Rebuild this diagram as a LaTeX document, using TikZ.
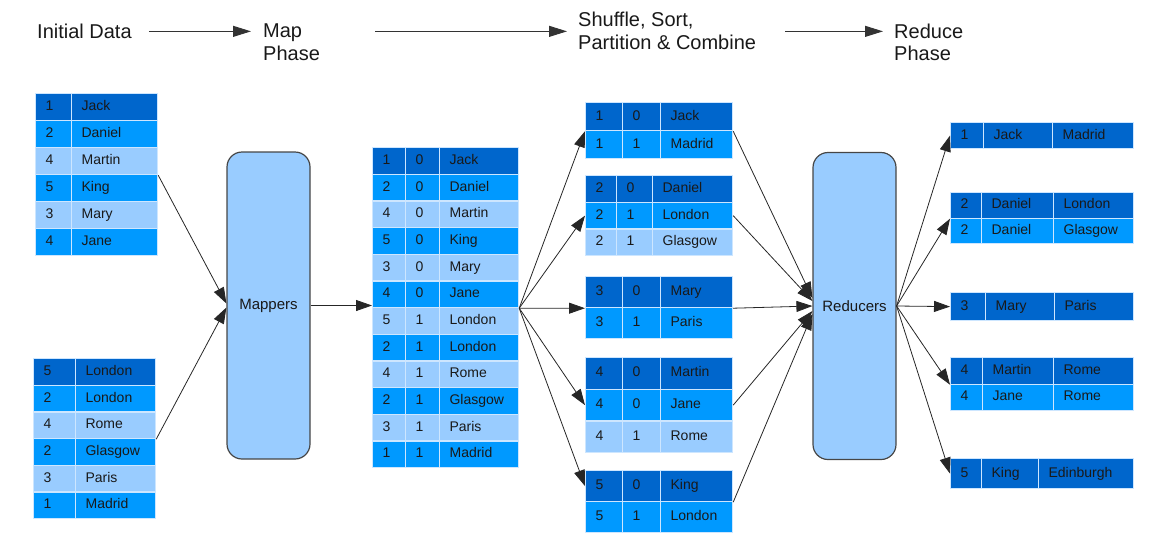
\documentclass[tikz,border=0pt]{standalone}
\usepackage{fontspec}
\setmainfont{Liberation Sans}
\usepackage{tikz}
\usetikzlibrary{arrows.meta,calc}

\definecolor{dkblue}{RGB}{0,102,204}
\definecolor{mdblue}{RGB}{0,153,255}
\definecolor{ltblue}{RGB}{153,204,255}
\definecolor{cellline}{RGB}{205,230,255}
\definecolor{boxline}{RGB}{70,70,70}
\definecolor{txt}{RGB}{25,25,25}

\begin{document}
\begin{tikzpicture}[x=1pt,y=-1pt,
  cell/.style={draw=cellline,line width=1.2pt,anchor=north west,inner xsep=10pt,inner ysep=0pt,
    align=left,text=txt,text height=10pt,text depth=3pt,font=\fontsize{14}{16}\selectfont},
  proc/.style={draw=boxline,fill=ltblue,line width=1.2pt,rounded corners=15pt,minimum width=83pt,
    minimum height=307pt,text=txt,font=\fontsize{15}{17}\selectfont},
  head/.style={inner sep=0pt,align=left,text=txt,font=\fontsize{20}{22.5}\selectfont},
  arr/.style={-{Triangle[length=16pt,width=11pt]},line width=0.8pt,black!85},
  harr/.style={-{Triangle[length=18pt,width=11pt]},line width=1pt,black!80}]
\useasboundingbox (0,0) rectangle (1174,555);

\node[head,anchor=base west] (init) at (37,38.5) {Initial Data};
\node[head,anchor=north west] (mapph) at (263,24) {Map\\Phase};
\node[head,anchor=north west] (shuf) at (578,12.3) {Shuffle, Sort,\\Partition \& Combine};
\node[head,anchor=north west] (redph) at (894,23.5) {Reduce\\Phase};
\draw[harr] ($(init.east)+(17,0)$) -- ($(init.east -| mapph.west)+(-12,0)$);
\draw[harr] ($(init.east -| mapph.east)+(55,0)$) -- ($(init.east -| shuf.west)+(-11,0)$);
\draw[harr] ($(init.east -| shuf.east)+(29,0)$) -- ($(init.east -| redph.west)+(-11,0)$);

\node[cell,fill=dkblue,text width=16pt,minimum height=27pt] (l1a1) at (35,93) {1};
\node[cell,fill=dkblue,text width=66pt,minimum height=27pt] (l1b1) at (71,93) {Jack};
\node[cell,fill=mdblue,text width=16pt,minimum height=27pt] (l1a2) at (35,120) {2};
\node[cell,fill=mdblue,text width=66pt,minimum height=27pt] (l1b2) at (71,120) {Daniel};
\node[cell,fill=ltblue,text width=16pt,minimum height=27pt] (l1a3) at (35,147) {4};
\node[cell,fill=ltblue,text width=66pt,minimum height=27pt] (l1b3) at (71,147) {Martin};
\node[cell,fill=mdblue,text width=16pt,minimum height=27pt] (l1a4) at (35,174) {5};
\node[cell,fill=mdblue,text width=66pt,minimum height=27pt] (l1b4) at (71,174) {King};
\node[cell,fill=ltblue,text width=16pt,minimum height=27pt] (l1a5) at (35,201) {3};
\node[cell,fill=ltblue,text width=66pt,minimum height=27pt] (l1b5) at (71,201) {Mary};
\node[cell,fill=mdblue,text width=16pt,minimum height=27pt] (l1a6) at (35,228) {4};
\node[cell,fill=mdblue,text width=66pt,minimum height=27pt] (l1b6) at (71,228) {Jane};

\node[cell,fill=dkblue,text width=22pt,minimum height=26.7pt] (l2a1) at (33,358) {5};
\node[cell,fill=dkblue,text width=60pt,minimum height=26.7pt] (l2b1) at (75,358) {London};
\node[cell,fill=mdblue,text width=22pt,minimum height=26.7pt] (l2a2) at (33,384.7) {2};
\node[cell,fill=mdblue,text width=60pt,minimum height=26.7pt] (l2b2) at (75,384.7) {London};
\node[cell,fill=ltblue,text width=22pt,minimum height=26.7pt] (l2a3) at (33,411.3) {4};
\node[cell,fill=ltblue,text width=60pt,minimum height=26.7pt] (l2b3) at (75,411.3) {Rome};
\node[cell,fill=mdblue,text width=22pt,minimum height=26.7pt] (l2a4) at (33,438) {2};
\node[cell,fill=mdblue,text width=60pt,minimum height=26.7pt] (l2b4) at (75,438) {Glasgow};
\node[cell,fill=ltblue,text width=22pt,minimum height=26.7pt] (l2a5) at (33,464.7) {3};
\node[cell,fill=ltblue,text width=60pt,minimum height=26.7pt] (l2b5) at (75,464.7) {Paris};
\node[cell,fill=mdblue,text width=22pt,minimum height=26.7pt] (l2a6) at (33,491.3) {1};
\node[cell,fill=mdblue,text width=60pt,minimum height=26.7pt] (l2b6) at (75,491.3) {Madrid};

\node[proc] (map) at (268.5,305.5) {Mappers};

\node[cell,fill=dkblue,text width=13pt,minimum height=26.7pt] (m1a) at (372,147) {1};
\node[cell,fill=dkblue,text width=14pt,minimum height=26.7pt] (m1b) at (405,147) {0};
\node[cell,fill=dkblue,text width=59pt,minimum height=26.7pt] (m1c) at (439,147) {Jack};
\node[cell,fill=mdblue,text width=13pt,minimum height=26.7pt] (m2a) at (372,173.7) {2};
\node[cell,fill=mdblue,text width=14pt,minimum height=26.7pt] (m2b) at (405,173.7) {0};
\node[cell,fill=mdblue,text width=59pt,minimum height=26.7pt] (m2c) at (439,173.7) {Daniel};
\node[cell,fill=ltblue,text width=13pt,minimum height=26.7pt] (m3a) at (372,200.3) {4};
\node[cell,fill=ltblue,text width=14pt,minimum height=26.7pt] (m3b) at (405,200.3) {0};
\node[cell,fill=ltblue,text width=59pt,minimum height=26.7pt] (m3c) at (439,200.3) {Martin};
\node[cell,fill=mdblue,text width=13pt,minimum height=26.7pt] (m4a) at (372,227) {5};
\node[cell,fill=mdblue,text width=14pt,minimum height=26.7pt] (m4b) at (405,227) {0};
\node[cell,fill=mdblue,text width=59pt,minimum height=26.7pt] (m4c) at (439,227) {King};
\node[cell,fill=ltblue,text width=13pt,minimum height=26.7pt] (m5a) at (372,253.7) {3};
\node[cell,fill=ltblue,text width=14pt,minimum height=26.7pt] (m5b) at (405,253.7) {0};
\node[cell,fill=ltblue,text width=59pt,minimum height=26.7pt] (m5c) at (439,253.7) {Mary};
\node[cell,fill=mdblue,text width=13pt,minimum height=26.7pt] (m6a) at (372,280.3) {4};
\node[cell,fill=mdblue,text width=14pt,minimum height=26.7pt] (m6b) at (405,280.3) {0};
\node[cell,fill=mdblue,text width=59pt,minimum height=26.7pt] (m6c) at (439,280.3) {Jane};
\node[cell,fill=ltblue,text width=13pt,minimum height=26.7pt] (m7a) at (372,307) {5};
\node[cell,fill=ltblue,text width=14pt,minimum height=26.7pt] (m7b) at (405,307) {1};
\node[cell,fill=ltblue,text width=59pt,minimum height=26.7pt] (m7c) at (439,307) {London};
\node[cell,fill=mdblue,text width=13pt,minimum height=26.7pt] (m8a) at (372,333.7) {2};
\node[cell,fill=mdblue,text width=14pt,minimum height=26.7pt] (m8b) at (405,333.7) {1};
\node[cell,fill=mdblue,text width=59pt,minimum height=26.7pt] (m8c) at (439,333.7) {London};
\node[cell,fill=ltblue,text width=13pt,minimum height=26.7pt] (m9a) at (372,360.3) {4};
\node[cell,fill=ltblue,text width=14pt,minimum height=26.7pt] (m9b) at (405,360.3) {1};
\node[cell,fill=ltblue,text width=59pt,minimum height=26.7pt] (m9c) at (439,360.3) {Rome};
\node[cell,fill=mdblue,text width=13pt,minimum height=26.7pt] (m10a) at (372,387) {2};
\node[cell,fill=mdblue,text width=14pt,minimum height=26.7pt] (m10b) at (405,387) {1};
\node[cell,fill=mdblue,text width=59pt,minimum height=26.7pt] (m10c) at (439,387) {Glasgow};
\node[cell,fill=ltblue,text width=13pt,minimum height=26.7pt] (m11a) at (372,413.7) {3};
\node[cell,fill=ltblue,text width=14pt,minimum height=26.7pt] (m11b) at (405,413.7) {1};
\node[cell,fill=ltblue,text width=59pt,minimum height=26.7pt] (m11c) at (439,413.7) {Paris};
\node[cell,fill=mdblue,text width=13pt,minimum height=26.7pt] (m12a) at (372,440.3) {1};
\node[cell,fill=mdblue,text width=14pt,minimum height=26.7pt] (m12b) at (405,440.3) {1};
\node[cell,fill=mdblue,text width=59pt,minimum height=26.7pt] (m12c) at (439,440.3) {Madrid};

\node[cell,fill=dkblue,text width=17pt,minimum height=28pt] (sa1a) at (585,102) {1};
\node[cell,fill=dkblue,text width=18pt,minimum height=28pt] (sa1b) at (622,102) {0};
\node[cell,fill=dkblue,text width=52pt,minimum height=28pt] (sa1c) at (660,102) {Jack};
\node[cell,fill=mdblue,text width=17pt,minimum height=28pt] (sa2a) at (585,130) {1};
\node[cell,fill=mdblue,text width=18pt,minimum height=28pt] (sa2b) at (622,130) {1};
\node[cell,fill=mdblue,text width=52pt,minimum height=28pt] (sa2c) at (660,130) {Madrid};

\node[cell,fill=dkblue,text width=11pt,minimum height=26.7pt] (sb1a) at (585,175) {2};
\node[cell,fill=dkblue,text width=16pt,minimum height=26.7pt] (sb1b) at (616,175) {0};
\node[cell,fill=dkblue,text width=60pt,minimum height=26.7pt] (sb1c) at (652,175) {Daniel};
\node[cell,fill=mdblue,text width=11pt,minimum height=26.7pt] (sb2a) at (585,201.7) {2};
\node[cell,fill=mdblue,text width=16pt,minimum height=26.7pt] (sb2b) at (616,201.7) {1};
\node[cell,fill=mdblue,text width=60pt,minimum height=26.7pt] (sb2c) at (652,201.7) {London};
\node[cell,fill=ltblue,text width=11pt,minimum height=26.7pt] (sb3a) at (585,228.3) {2};
\node[cell,fill=ltblue,text width=16pt,minimum height=26.7pt] (sb3b) at (616,228.3) {1};
\node[cell,fill=ltblue,text width=60pt,minimum height=26.7pt] (sb3c) at (652,228.3) {Glasgow};

\node[cell,fill=dkblue,text width=17pt,minimum height=31pt] (sc1a) at (585,276) {3};
\node[cell,fill=dkblue,text width=18pt,minimum height=31pt] (sc1b) at (622,276) {0};
\node[cell,fill=dkblue,text width=52pt,minimum height=31pt] (sc1c) at (660,276) {Mary};
\node[cell,fill=mdblue,text width=17pt,minimum height=31pt] (sc2a) at (585,307) {3};
\node[cell,fill=mdblue,text width=18pt,minimum height=31pt] (sc2b) at (622,307) {1};
\node[cell,fill=mdblue,text width=52pt,minimum height=31pt] (sc2c) at (660,307) {Paris};

\node[cell,fill=dkblue,text width=17pt,minimum height=31.7pt] (sd1a) at (585,357) {4};
\node[cell,fill=dkblue,text width=18pt,minimum height=31.7pt] (sd1b) at (622,357) {0};
\node[cell,fill=dkblue,text width=52pt,minimum height=31.7pt] (sd1c) at (660,357) {Martin};
\node[cell,fill=mdblue,text width=17pt,minimum height=31.7pt] (sd2a) at (585,388.7) {4};
\node[cell,fill=mdblue,text width=18pt,minimum height=31.7pt] (sd2b) at (622,388.7) {0};
\node[cell,fill=mdblue,text width=52pt,minimum height=31.7pt] (sd2c) at (660,388.7) {Jane};
\node[cell,fill=ltblue,text width=17pt,minimum height=31.7pt] (sd3a) at (585,420.3) {4};
\node[cell,fill=ltblue,text width=18pt,minimum height=31.7pt] (sd3b) at (622,420.3) {1};
\node[cell,fill=ltblue,text width=52pt,minimum height=31.7pt] (sd3c) at (660,420.3) {Rome};

\node[cell,fill=dkblue,text width=17pt,minimum height=31pt] (se1a) at (585,470) {5};
\node[cell,fill=dkblue,text width=18pt,minimum height=31pt] (se1b) at (622,470) {0};
\node[cell,fill=dkblue,text width=52pt,minimum height=31pt] (se1c) at (660,470) {King};
\node[cell,fill=mdblue,text width=17pt,minimum height=31pt] (se2a) at (585,501) {5};
\node[cell,fill=mdblue,text width=18pt,minimum height=31pt] (se2b) at (622,501) {1};
\node[cell,fill=mdblue,text width=52pt,minimum height=31pt] (se2c) at (660,501) {London};

\node[proc] (red) at (854.5,306) {Reducers};

\node[cell,fill=dkblue,text width=13pt,minimum height=26pt] (o1a) at (950,122) {1};
\node[cell,fill=dkblue,text width=49pt,minimum height=26pt] (o1b) at (983,122) {Jack};
\node[cell,fill=dkblue,text width=61pt,minimum height=26pt] (o1c) at (1052,122) {Madrid};

\node[cell,fill=dkblue,text width=11pt,minimum height=25.5pt] (o2a) at (950,192) {2};
\node[cell,fill=dkblue,text width=52pt,minimum height=25.5pt] (o2b) at (981,192) {Daniel};
\node[cell,fill=dkblue,text width=60pt,minimum height=25.5pt] (o2c) at (1053,192) {London};
\node[cell,fill=mdblue,text width=11pt,minimum height=25.5pt] (o2d) at (950,217.5) {2};
\node[cell,fill=mdblue,text width=52pt,minimum height=25.5pt] (o2e) at (981,217.5) {Daniel};
\node[cell,fill=mdblue,text width=60pt,minimum height=25.5pt] (o2f) at (1053,217.5) {Glasgow};

\node[cell,fill=dkblue,text width=15pt,minimum height=28pt] (o3a) at (950,292) {3};
\node[cell,fill=dkblue,text width=49pt,minimum height=28pt] (o3b) at (985,292) {Mary};
\node[cell,fill=dkblue,text width=59pt,minimum height=28pt] (o3c) at (1054,292) {Paris};

\node[cell,fill=dkblue,text width=12pt,minimum height=26.5pt] (o4a) at (950,357) {4};
\node[cell,fill=dkblue,text width=51pt,minimum height=26.5pt] (o4b) at (982,357) {Martin};
\node[cell,fill=dkblue,text width=60pt,minimum height=26.5pt] (o4c) at (1053,357) {Rome};
\node[cell,fill=mdblue,text width=12pt,minimum height=26.5pt] (o4d) at (950,383.5) {4};
\node[cell,fill=mdblue,text width=51pt,minimum height=26.5pt] (o4e) at (982,383.5) {Jane};
\node[cell,fill=mdblue,text width=60pt,minimum height=26.5pt] (o4f) at (1053,383.5) {Rome};

\node[cell,fill=dkblue,text width=11pt,minimum height=30pt] (o5a) at (950,458) {5};
\node[cell,fill=dkblue,text width=37pt,minimum height=30pt] (o5b) at (981,458) {King};
\node[cell,fill=dkblue,text width=75pt,minimum height=30pt] (o5c) at (1038,458) {Edinburgh};

\draw[arr] (l1b3.south east) -- ([yshift=2pt]map.west);
\draw[arr] (l2b3.south east) -- ([yshift=-2pt]map.west);
\draw[arr] (map.east) -- (map.east -| m1a.west);

\draw[arr] (m6c.south east) -- (sa1a.south west);
\draw[arr] (m6c.south east) -- (sb2a.west);
\draw[arr] (m6c.south east) -- (sc1a.south west);
\draw[arr] (m6c.south east) -- (sd2a.west);
\draw[arr] (m6c.south east) -- (se1a.west);

\draw[arr] (sa1c.south east) -- ([yshift=8pt]red.west);
\draw[arr] (sb2c.east) -- ([yshift=5pt]red.west);
\draw[arr] (sc1c.south east) -- (red.west);
\draw[arr] (sd2c.east) -- ([yshift=-5pt]red.west);
\draw[arr] (se1c.south east) -- ([yshift=-8pt]red.west);

\draw[arr] (red.east) -- (o1a.west);
\draw[arr] (red.east) -- (o2a.south west);
\draw[arr] (red.east) -- (o3a.west);
\draw[arr] (red.east) -- (o4a.south west);
\draw[arr] (red.east) -- (o5a.west);
\end{tikzpicture}
\end{document}
